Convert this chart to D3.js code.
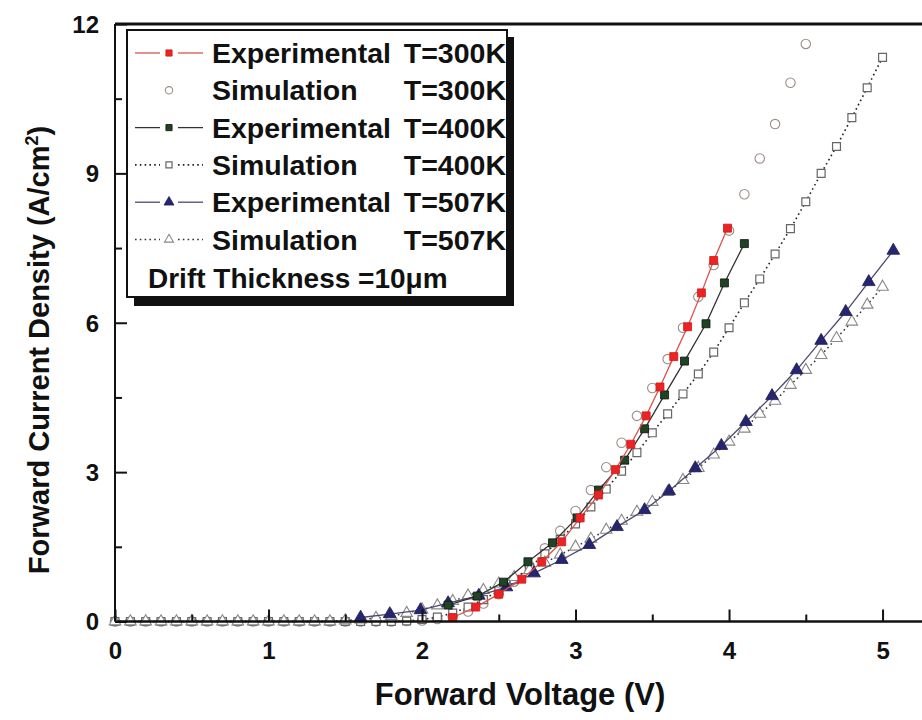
<!DOCTYPE html>
<html>
<head>
<meta charset="utf-8">
<script src="https://cdn.jsdelivr.net/npm/d3@7"></script>
<style>
  body { margin: 0; background: #fff; }
  text { font-family: "Liberation Sans", Arial, sans-serif; font-weight: bold; fill: #111; }
</style>
</head>
<body>
<script>
// Chart data
const simV300 = [0.0,0.1,0.2,0.3,0.4,0.5,0.6,0.7,0.8,0.9,1.0,1.1,1.2,1.3,1.4,1.5,1.6,1.7,1.8,1.9,
  2.0,2.1,2.2,2.3,2.4,2.5,2.6,2.7,2.8,2.9,3.0,3.1,3.2,3.3,3.4,3.5,3.6,3.7,3.8,3.9,4.0,4.1,4.2,4.3,4.4,4.5];
const simJ300 = [0,0,0,0,0,0,0,0,0,0,0,0,0,0,0,0,0,0,0,0.01,
  0.02,0.05,0.1,0.2,0.36,0.55,0.8,1.12,1.47,1.82,2.22,2.64,3.1,3.59,4.13,4.69,5.27,5.9,6.52,7.16,7.85,8.58,9.3,9.99,10.82,11.6];

const simV400 = [0.0,0.1,0.2,0.3,0.4,0.5,0.6,0.7,0.8,0.9,1.0,1.1,1.2,1.3,1.4,1.5,1.6,1.7,1.8,1.9,
  2.0,2.1,2.2,2.3,2.4,2.5,2.6,2.7,2.8,2.9,3.0,3.1,3.2,3.3,3.4,3.5,3.6,3.7,3.8,3.9,4.0,4.1,4.2,4.3,4.4,4.5,4.6,4.7,4.8,4.9,5.0];
const simJ400 = [0,0,0,0,0,0,0,0,0,0,0,0,0,0,0,0,0,0,0,0.01,
  0.04,0.09,0.17,0.29,0.44,0.62,0.84,1.08,1.36,1.65,1.96,2.3,2.66,3.02,3.39,3.79,4.17,4.57,4.97,5.41,5.9,6.4,6.88,7.38,7.89,8.43,9.0,9.54,10.12,10.72,11.33];

const simV507 = [0.0,0.1,0.2,0.3,0.4,0.5,0.6,0.7,0.8,0.9,1.0,1.1,1.2,1.3,1.4,1.5,1.6,1.7,1.8,1.9,
  2.0,2.1,2.2,2.3,2.4,2.5,2.6,2.7,2.8,2.9,3.0,3.1,3.2,3.3,3.4,3.5,3.6,3.7,3.8,3.9,4.0,4.1,4.2,4.3,4.4,4.5,4.6,4.7,4.8,4.9,5.0];
const simJ507 = [0,0,0,0,0,0,0,0,0,0,0,0,0,0,0,0.02,0.04,0.07,0.11,0.17,
  0.24,0.32,0.41,0.52,0.63,0.76,0.89,1.03,1.18,1.34,1.5,1.66,1.84,2.02,2.2,2.4,2.6,2.84,3.08,3.35,3.61,3.87,4.17,4.43,4.75,5.05,5.35,5.69,6.02,6.36,6.72];

const expV300 = [2.2,2.35,2.5,2.65,2.78,2.91,3.03,3.15,3.26,3.36,3.46,3.55,3.64,3.73,3.82,3.90,3.99];
const expJ300 = [0.08,0.29,0.55,0.85,1.2,1.6,2.08,2.54,3.05,3.56,4.13,4.71,5.32,5.92,6.6,7.25,7.9];

const expV400 = [2.17,2.36,2.53,2.69,2.85,3.01,3.15,3.32,3.45,3.58,3.71,3.85,3.97,4.10];
const expJ400 = [0.33,0.51,0.79,1.2,1.58,2.08,2.64,3.24,3.87,4.55,5.23,5.98,6.8,7.59];

const expV507 = [1.6,1.79,1.99,2.17,2.37,2.55,2.73,2.91,3.09,3.27,3.45,3.61,3.78,3.95,4.11,4.28,4.44,4.60,4.76,4.91,5.07];
const expJ507 = [0.08,0.15,0.23,0.37,0.52,0.69,0.97,1.24,1.54,1.9,2.24,2.62,3.08,3.53,4.01,4.53,5.05,5.64,6.22,6.82,7.45];

const xMajor = [0, 1, 2, 3, 4, 5];
const xMinor = [0.5, 1.5, 2.5, 3.5, 4.5];
const yMajor = [0, 3, 6, 9, 12];
const yMinor = [1.5, 4.5, 7.5, 10.5];

const legendLabels = [
  ['Experimental', 'T=300K'],
  ['Simulation', 'T=300K'],
  ['Experimental', 'T=400K'],
  ['Simulation', 'T=400K'],
  ['Experimental', 'T=507K'],
  ['Simulation', 'T=507K']
];

const zip = (a, b) => a.map((v, i) => [v, b[i]]);

const W = 922, H = 720;
const svg = d3.select('body').append('svg')
  .attr('width', W).attr('height', H);

const x = d3.scaleLinear().domain([0, 5.257]).range([115, 922]);
const y = d3.scaleLinear().domain([0, 12]).range([621.5, 24]);

// series styles
const series = [
  { data: zip(simV300, simJ300), line: null, sym: d3.symbolCircle, size: 70, fill: '#fff', stroke: '#9c8e88', sw: 1.1 },
  { data: zip(simV400, simJ400), line: { stroke: '#222', dash: '1.6,3.2', w: 1.6 }, sym: d3.symbolSquare, size: 62, fill: '#fff', stroke: '#666', sw: 1.2 },
  { data: zip(simV507, simJ507), line: { stroke: '#333', dash: '1.6,3.2', w: 1.5 }, sym: d3.symbolTriangle, size: 58, fill: '#fff', stroke: '#888', sw: 1.1 },
  { data: zip(expV507, expJ507), line: { stroke: '#4a4a70', dash: null, w: 1.3 }, sym: d3.symbolTriangle, size: 70, fill: '#262670', stroke: '#1c1c50', sw: 0.8 },
  { data: zip(expV400, expJ400), line: { stroke: '#333', dash: null, w: 1.3 }, sym: d3.symbolSquare, size: 64, fill: '#1f4424', stroke: '#111', sw: 0.8 },
  { data: zip(expV300, expJ300), line: { stroke: '#d9534f', dash: null, w: 1.3 }, sym: d3.symbolSquare, size: 64, fill: '#ee2222', stroke: '#cc1a1a', sw: 0.8 }
];

const line = d3.line().x(d => x(d[0])).y(d => y(d[1]));

series.forEach(s => {
  if (s.line) {
    svg.append('path')
      .datum(s.data)
      .attr('d', line)
      .attr('fill', 'none')
      .attr('stroke', s.line.stroke)
      .attr('stroke-width', s.line.w)
      .attr('stroke-dasharray', s.line.dash);
  }
  svg.append('g').selectAll('path')
    .data(s.data)
    .enter()
    .append('path')
    .attr('transform', d => `translate(${x(d[0])},${y(d[1])})`)
    .attr('d', d3.symbol(s.sym, s.size))
    .attr('fill', s.fill)
    .attr('stroke', s.stroke)
    .attr('stroke-width', s.sw);
});

// axes (ticks point inward)
const xAxis = svg.append('g')
  .attr('transform', `translate(0,${y(0)})`)
  .call(d3.axisBottom(x).tickValues(xMajor).tickSize(-12).tickPadding(20).tickFormat(d3.format('d')));
svg.append('g')
  .attr('transform', `translate(0,${y(0)})`)
  .call(d3.axisBottom(x).tickValues(xMinor).tickSize(-7).tickFormat(''));
const yAxis = svg.append('g')
  .attr('transform', `translate(${x(0)},0)`)
  .call(d3.axisLeft(y).tickValues(yMajor).tickSize(-12).tickPadding(16).tickFormat(d3.format('d')));
svg.append('g')
  .attr('transform', `translate(${x(0)},0)`)
  .call(d3.axisLeft(y).tickValues(yMinor).tickSize(-7).tickFormat(''));

svg.selectAll('.domain').remove();
svg.selectAll('.tick line').attr('stroke', '#111').attr('stroke-width', 2);
xAxis.selectAll('text').style('font-size', '24px').attr('fill', '#111');
yAxis.selectAll('text').style('font-size', '24px').attr('fill', '#111').attr('dy', '0.35em');

// frame
svg.append('line').attr('x1', x(0)).attr('x2', W).attr('y1', y(0)).attr('y2', y(0))
  .attr('stroke', '#111').attr('stroke-width', 2.5);
svg.append('line').attr('x1', x(0)).attr('x2', x(0)).attr('y1', y(0)).attr('y2', y(12))
  .attr('stroke', '#111').attr('stroke-width', 2);
svg.append('line').attr('x1', x(0)).attr('x2', W).attr('y1', y(12)).attr('y2', y(12))
  .attr('stroke', '#111').attr('stroke-width', 3);

// axis titles
svg.append('text')
  .attr('x', 520).attr('y', 705)
  .attr('text-anchor', 'middle')
  .style('font-size', '31px')
  .text('Forward Voltage (V)');

const yt = svg.append('text')
  .attr('transform', 'translate(49,350) rotate(-90)')
  .attr('text-anchor', 'middle')
  .style('font-size', '29px');
yt.append('tspan').text('Forward Current Density (A/cm');
yt.append('tspan').attr('dy', -11).style('font-size', '18px').text('2');
yt.append('tspan').attr('dy', 11).text(')');

// legend
const lg = svg.append('g');
lg.append('rect').attr('x', 134).attr('y', 37).attr('width', 380).attr('height', 269).attr('fill', '#111');
lg.append('rect').attr('x', 127).attr('y', 30).attr('width', 380).attr('height', 267)
  .attr('fill', '#fff').attr('stroke', '#111').attr('stroke-width', 2);

const legendStyle = [series[5], series[0], series[4], series[1], series[3], series[2]];
legendLabels.forEach((lab, i) => {
  const cy = 53 + i * 37.3;
  const s = legendStyle[i];
  const row = lg.append('g');
  if (s.line) {
    [[135, 160], [178, 203]].forEach(seg => {
      row.append('line')
        .attr('x1', seg[0]).attr('x2', seg[1]).attr('y1', cy).attr('y2', cy)
        .attr('stroke', s.line.stroke).attr('stroke-width', s.line.w)
        .attr('stroke-dasharray', s.line.dash);
    });
  }
  row.append('path')
    .attr('transform', `translate(169,${cy})`)
    .attr('d', d3.symbol(s.sym, s.size * 0.6))
    .attr('fill', s.fill).attr('stroke', s.stroke).attr('stroke-width', s.sw);
  row.append('text').attr('x', 212).attr('y', cy + 10).style('font-size', '28.5px').text(lab[0]);
  row.append('text').attr('x', 506).attr('y', cy + 10).attr('text-anchor', 'end').style('font-size', '28.5px').text(lab[1]);
});
lg.append('text').attr('x', 148).attr('y', 288).style('font-size', '28px').text('Drift Thickness =10\u03bcm');
</script>
</body>
</html>
